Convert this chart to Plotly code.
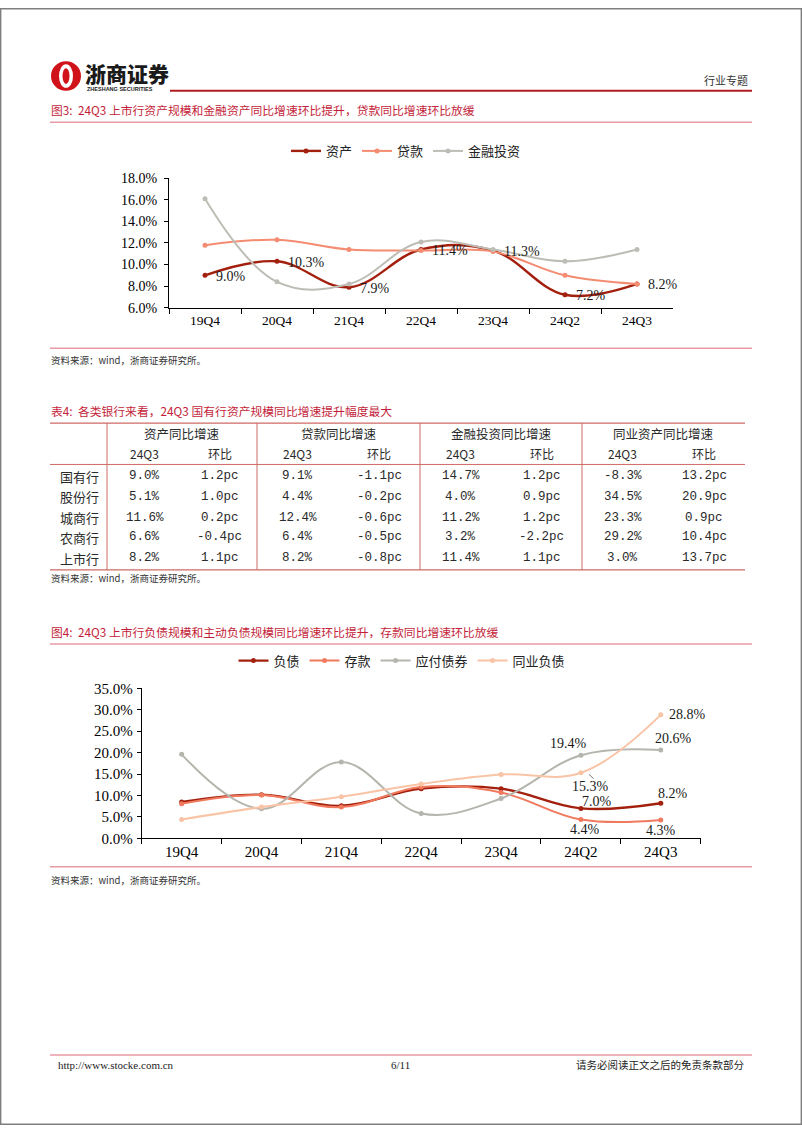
import plotly.graph_objects as go

W, H = 802, 1133


def px(x):
    return x / W


def py(y):
    return 1 - y / H


# ---------------- data ----------------
quarters = ["19Q4", "20Q4", "21Q4", "22Q4", "23Q4", "24Q2", "24Q3"]

# Figure 3 (asset side, YoY %)
asset_growth = [9.0, 10.3, 7.9, 11.4, 11.3, 7.2, 8.2]
loan_growth = [11.8, 12.3, 11.4, 11.3, 11.2, 9.0, 8.2]
invest_growth = [16.1, 8.4, 8.2, 12.1, 11.4, 10.3, 11.4]

# Figure 4 (liability side, YoY %)
liab_growth = [8.5, 10.2, 7.6, 11.6, 11.6, 7.0, 8.2]
deposit_growth = [8.1, 10.1, 7.3, 12.0, 10.7, 4.4, 4.3]
bond_growth = [19.6, 6.9, 17.8, 5.8, 9.3, 19.4, 20.6]
interbank_growth = [4.4, 7.3, 9.7, 12.7, 14.9, 15.3, 28.8]

# Table 4
table_groups = ["资产同比增速", "贷款同比增速", "金融投资同比增速", "同业资产同比增速"]
sub_headers = ["24Q3", "环比"]
bank_types = ["国有行", "股份行", "城商行", "农商行", "上市行"]
asset_yoy = [9.0, 5.1, 11.6, 6.6, 8.2]
asset_qoq = [1.2, 1.0, 0.2, -0.4, 1.1]
loan_yoy = [9.1, 4.4, 12.4, 6.4, 8.2]
loan_qoq = [-1.1, -0.2, -0.6, -0.5, -0.8]
invest_yoy = [14.7, 4.0, 11.2, 3.2, 11.4]
invest_qoq = [1.2, 0.9, 1.2, -2.2, 1.1]
ib_yoy = [-8.3, 34.5, 23.3, 29.2, 3.0]
ib_qoq = [13.2, 20.9, 0.9, 10.4, 13.7]

# ---------------- styles ----------------
C_DARK = "#A3200E"
C_LOAN = "#F48C72"
C_INV = "#BDBDB5"
C_DEP = "#F07A5E"
C_BOND = "#B5B5AD"
C_IB = "#F9C3A6"
RED_TITLE = "#C41E3A"
PINK = "#E89AA5"
TABLE_LINE = "#CF6A66"
SERIF = "Liberation Serif"
CJK = "Noto Sans CJK SC"

fig = go.Figure()


def add_line(x, y, name, color, width, xa, ya, legend):
    fig.add_trace(go.Scatter(
        x=x, y=y, name=name, mode="lines+markers",
        line=dict(color=color, width=width, shape="spline", smoothing=1.1),
        marker=dict(color=color, size=5, symbol="circle"),
        xaxis=xa, yaxis=ya, legend=legend, hoverinfo="skip"))


add_line(quarters, asset_growth, "资产", C_DARK, 2.4, "x", "y", "legend")
add_line(quarters, loan_growth, "贷款", C_LOAN, 2.0, "x", "y", "legend")
add_line(quarters, invest_growth, "金融投资", C_INV, 2.0, "x", "y", "legend")

add_line(quarters, liab_growth, "负债", C_DARK, 2.4, "x2", "y2", "legend2")
add_line(quarters, deposit_growth, "存款", C_DEP, 2.0, "x2", "y2", "legend2")
add_line(quarters, bond_growth, "应付债券", C_BOND, 2.0, "x2", "y2", "legend2")
add_line(quarters, interbank_growth, "同业负债", C_IB, 2.0, "x2", "y2", "legend2")

ann = []
shapes = []

# ---- data labels, figure 3 (资产 series) ----
for i, v in enumerate(asset_growth):
    ann.append(dict(x=quarters[i], y=v, xref="x", yref="y", text=f"{v:.1f}%",
                    showarrow=False, xanchor="left", yanchor="middle",
                    xshift=9, yshift=-1,
                    font=dict(family=SERIF, size=14, color="#1a1a1a")))

# ---- data labels, figure 4 ----
label_specs = [
    (liab_growth, 5, 16, 7),
    (liab_growth, 6, 12, 10),
    (deposit_growth, 5, 4, -10),
    (deposit_growth, 6, 0, -11),
    (bond_growth, 5, -12, 12),
    (bond_growth, 6, 13, 12),
    (interbank_growth, 5, 10, -14),
    (interbank_growth, 6, 27, 0),
]
for series, i, dx, dy in label_specs:
    ann.append(dict(x=quarters[i], y=series[i], xref="x2", yref="y2",
                    text=f"{series[i]:.1f}%", showarrow=False,
                    xanchor="center", yanchor="middle", xshift=dx, yshift=dy,
                    font=dict(family=SERIF, size=14, color="#1a1a1a")))
# leader line for 15.3%
shapes.append(dict(type="line", xref="x2", yref="y2",
                   x0=5 + 0.10, y0=interbank_growth[5] - 0.35,
                   x1=5 + 0.16, y1=interbank_growth[5] - 1.4,
                   line=dict(color="#777777", width=1)))

# ---- page frame ----
shapes.append(dict(type="rect", xref="paper", yref="paper",
                   x0=px(0.7), x1=px(801.3), y0=py(1132.3), y1=py(0.7),
                   line=dict(color="#7F7F7F", width=1.4)))

# ---- header ----
shapes.append(dict(type="line", xref="paper", yref="paper",
                   x0=px(170), x1=px(752), y0=py(84), y1=py(84),
                   line=dict(color="#B01E23", width=2)))
# logo emblem
shapes.append(dict(type="circle", xref="paper", yref="paper",
                   x0=px(51), x1=px(81), y0=py(84), y1=py(54),
                   fillcolor="#D0121B", line=dict(width=0)))
shapes.append(dict(type="circle", xref="paper", yref="paper",
                   x0=px(59), x1=px(73), y0=py(81), y1=py(57),
                   fillcolor="white", line=dict(width=0)))
shapes.append(dict(type="circle", xref="paper", yref="paper",
                   x0=px(62.5), x1=px(69.5), y0=py(77), y1=py(61),
                   fillcolor="#D0121B", line=dict(width=0)))
ann.append(dict(x=px(83), y=py(66), xref="paper", yref="paper", text="浙商证券",
                showarrow=False, xanchor="left", yanchor="middle",
                font=dict(family=CJK, size=21, color="#1a1a1a", weight=900)))
ann.append(dict(x=px(85), y=py(82.5), xref="paper", yref="paper",
                text="ZHESHANG SECURITIES", showarrow=False,
                xanchor="left", yanchor="middle",
                font=dict(family="Liberation Sans", size=5.5, color="#1a1a1a",
                          weight="bold")))
ann.append(dict(x=px(750), y=py(73), xref="paper", yref="paper", text="行业专题",
                showarrow=False, xanchor="right", yanchor="middle",
                font=dict(family=CJK, size=11, color="#333333")))

# ---- section titles & rules ----
def title(text, y):
    ann.append(dict(x=px(49), y=py(y), xref="paper", yref="paper", text=text,
                    showarrow=False, xanchor="left", yanchor="middle",
                    font=dict(family=CJK, size=11.8, color=RED_TITLE)))


def rule(y, x0=50, x1=752, color=PINK, width=1.5):
    shapes.append(dict(type="line", xref="paper", yref="paper",
                       x0=px(x0), x1=px(x1), y0=py(y), y1=py(y),
                       line=dict(color=color, width=width)))


def source(y):
    ann.append(dict(x=px(49), y=py(y), xref="paper", yref="paper",
                    text="资料来源：wind，浙商证券研究所。", showarrow=False,
                    xanchor="left", yanchor="middle",
                    font=dict(family=CJK, size=9.5, color="#333333")))


title("图3:  24Q3 上市行资产规模和金融资产同比增速环比提升，贷款同比增速环比放缓", 103)
rule(116)
rule(345)
source(357)

title("表4:  各类银行来看，24Q3 国有行资产规模同比增速提升幅度最大", 408)
source(578)

title("图4:  24Q3 上市行负债规模和主动负债规模同比增速环比提升，存款同比增速环比放缓", 632)
rule(645)
rule(871)
source(884)

# ---- table ----
bounds = [50, 107, 257, 420, 582, 745]
rule(421, 50, 745, TABLE_LINE, 1.3)
rule(463, 50, 745, TABLE_LINE, 1.0)
rule(570, 50, 745, TABLE_LINE, 1.3)
for bx in bounds[1:5]:
    shapes.append(dict(type="line", xref="paper", yref="paper",
                       x0=px(bx), x1=px(bx), y0=py(421), y1=py(570),
                       line=dict(color=TABLE_LINE, width=1)))

row_y = [475, 496, 517, 537, 558]
cols = [(asset_yoy, asset_qoq), (loan_yoy, loan_qoq),
        (invest_yoy, invest_qoq), (ib_yoy, ib_qoq)]
TXT = "#2a2a2a"
for g, name in enumerate(table_groups):
    left, right = bounds[g + 1], bounds[g + 2]
    mid = (left + right) / 2
    ann.append(dict(x=px(mid), y=py(432), xref="paper", yref="paper", text=name,
                    showarrow=False, xanchor="center", yanchor="middle",
                    font=dict(family=CJK, size=12.5, color=TXT)))
    centers = [(left + mid) / 2, (mid + right) / 2]
    for k, sh in enumerate(sub_headers):
        ann.append(dict(x=px(centers[k]), y=py(452), xref="paper", yref="paper",
                        text=sh, showarrow=False, xanchor="center",
                        yanchor="middle",
                        font=dict(family=CJK, size=12, color=TXT)))
    yoy, qoq = cols[g]
    for r, yv in enumerate(row_y):
        ann.append(dict(x=px(centers[0]), y=py(yv), xref="paper", yref="paper",
                        text=f"{yoy[r]:.1f}%", showarrow=False,
                        xanchor="center", yanchor="middle",
                        font=dict(family="Liberation Mono", size=12.5, color=TXT)))
        ann.append(dict(x=px(centers[1]), y=py(yv), xref="paper", yref="paper",
                        text=f"{qoq[r]:.1f}pc", showarrow=False,
                        xanchor="center", yanchor="middle",
                        font=dict(family="Liberation Mono", size=12.5, color=TXT)))
for r, yv in enumerate(row_y):
    ann.append(dict(x=px((bounds[0] + bounds[1]) / 2 + 1), y=py(yv), xref="paper",
                    yref="paper", text=bank_types[r], showarrow=False,
                    xanchor="center", yanchor="middle",
                    font=dict(family=CJK, size=13, color=TXT)))

# ---- footer ----
rule(1062)
ann.append(dict(x=px(56), y=py(1072), xref="paper", yref="paper",
                text="http://www.stocke.com.cn", showarrow=False,
                xanchor="left", yanchor="middle",
                font=dict(family=SERIF, size=11, color="#222222")))
ann.append(dict(x=px(400), y=py(1072), xref="paper", yref="paper",
                text="6/11", showarrow=False, xanchor="center", yanchor="middle",
                font=dict(family=SERIF, size=11, color="#222222")))
ann.append(dict(x=px(746), y=py(1072), xref="paper", yref="paper",
                text="请务必阅读正文之后的免责条款部分", showarrow=False,
                xanchor="right", yanchor="middle",
                font=dict(family=CJK, size=10.5, color="#222222")))

# ---------------- axes ----------------
xcommon = dict(type="category", range=[-0.5, 6.5], showline=True,
               linecolor="black", linewidth=1, ticks="outside", ticklen=5,
               tickcolor="black", tickson="boundaries", showgrid=False,
               zeroline=False, fixedrange=True)
ycommon = dict(showline=True, linecolor="black", linewidth=1, ticks="outside",
               ticklen=4, tickcolor="black", showgrid=False, zeroline=False,
               tickformat=".1f", ticksuffix="%", fixedrange=True)

legend_common = dict(orientation="h", xanchor="center", yanchor="middle",
                     bgcolor="rgba(0,0,0,0)", itemwidth=30,
                     font=dict(family=CJK, size=13, color="#222222"))

fig.update_layout(
    width=W, height=H, autosize=False,
    margin=dict(l=0, r=0, t=0, b=0),
    paper_bgcolor="white", plot_bgcolor="white",
    font=dict(family=CJK, color="#222222"),
    xaxis=dict(**xcommon, domain=[px(169), px(673)], anchor="y",
               tickfont=dict(family=SERIF, size=13.5, color="black")),
    yaxis=dict(**ycommon, domain=[py(304), py(172.7)], anchor="x",
               range=[6, 18], tick0=6, dtick=2, ticklabelstandoff=4,
               tickfont=dict(family=SERIF, size=14, color="black")),
    xaxis2=dict(**xcommon, domain=[px(141.7), px(700.7)], anchor="y2",
                tickfont=dict(family=SERIF, size=15, color="black")),
    yaxis2=dict(**ycommon, domain=[py(842.3), py(690)], anchor="x2",
                range=[0, 35], tick0=0, dtick=5, ticklabelstandoff=1,
                tickfont=dict(family=SERIF, size=15, color="black")),
    legend=dict(**legend_common, x=px(406), y=py(145)),
    legend2=dict(**legend_common, x=px(402), y=py(662)),
    annotations=ann,
    shapes=shapes,
    showlegend=True,
)

fig.write_html(
    "out.html",
    config={"displayModeBar": False},
    post_script="document.body.style.margin='0';"
                "document.body.style.overflow='hidden';",
)
